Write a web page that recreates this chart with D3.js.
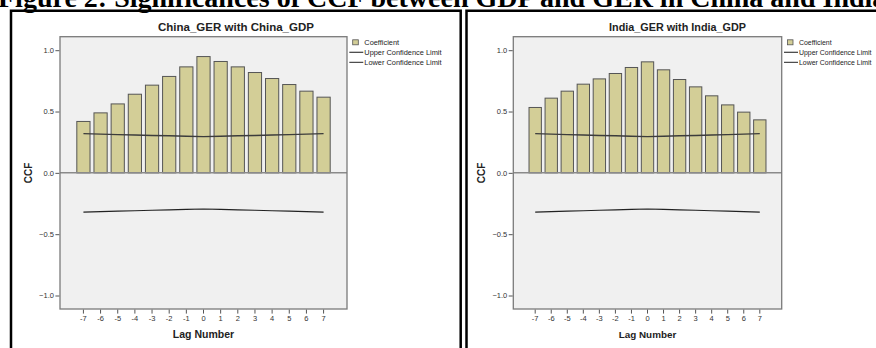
<!DOCTYPE html>
<html>
<head>
<meta charset="utf-8">
<script src="https://cdn.jsdelivr.net/npm/d3@7"></script>
<style>
  html, body { margin: 0; padding: 0; background: #fff; overflow: hidden; }
  svg { display: block; }
</style>
</head>
<body>
<svg id="chart" width="876" height="348"></svg>
<script>
const lags = [-7, -6, -5, -4, -3, -2, -1, 0, 1, 2, 3, 4, 5, 6, 7];
const chinaCoef = [0.419, 0.489, 0.562, 0.641, 0.715, 0.786, 0.864, 0.948, 0.908, 0.864, 0.818, 0.769, 0.720, 0.666, 0.617];
const indiaCoef = [0.533, 0.609, 0.666, 0.723, 0.766, 0.810, 0.859, 0.905, 0.840, 0.761, 0.701, 0.628, 0.554, 0.495, 0.432];
const upperLimit = [0.320, 0.316, 0.312, 0.309, 0.305, 0.302, 0.298, 0.295, 0.298, 0.302, 0.305, 0.309, 0.312, 0.316, 0.320];
const lowerLimit = [-0.320, -0.316, -0.312, -0.309, -0.305, -0.302, -0.298, -0.295, -0.298, -0.302, -0.305, -0.309, -0.312, -0.316, -0.320];
const yTicks = [-1.0, -0.5, 0.0, 0.5, 1.0];
const legendLabels = ["Coefficient", "Upper Confidence Limit", "Lower Confidence Limit"];
const caption = "Figure 2: Significances of CCF between GDP and GER in China and India";

const sans = "'Liberation Sans', Arial, sans-serif";
const svg = d3.select("#chart");

// caption, cut off at the top like the source scan
svg.append("text")
    .attr("x", -2)
    .attr("y", 7)
    .attr("font-family", "'Liberation Serif', 'Times New Roman', serif")
    .attr("font-weight", "bold")
    .attr("font-size", 28)
    .attr("fill", "#000")
    .text(caption);

// panel frames
svg.append("path")
    .attr("d", "M11,350 V10.7 H460.7 V350")
    .attr("fill", "none")
    .attr("stroke", "#000")
    .attr("stroke-width", 2.5);
svg.append("path")
    .attr("d", "M466.5,350 V10.7 H880")
    .attr("fill", "none")
    .attr("stroke", "#000")
    .attr("stroke-width", 2.5);

// fs: the right panel is squeezed a little in the source, so its text is narrower
const panels = [
    { title: "China_GER with China_GDP", values: chinaCoef, left: 60, right: 347, titleX: 236, ccfX: 28, legendX: 349.3, fs: 1 },
    { title: "India_GER with India_GDP", values: indiaCoef, left: 513.3, right: 781.7, titleX: 677.5, ccfX: 481.7, legendX: 784, fs: 0.94 },
];

const plotTop = 36.7;
const plotBottom = 309;

panels.forEach((p) => drawPanel(p));

function drawPanel(p) {
    const g = svg.append("g");

    const x = d3.scaleBand()
        .domain(lags)
        .range([p.left, p.right])
        .paddingInner(0.23)
        .paddingOuter(0.98);

    const y = d3.scaleLinear()
        .domain([-1.11, 1.11])
        .range([plotBottom, plotTop]);

    // plot background
    g.append("rect")
        .attr("x", p.left)
        .attr("y", plotTop)
        .attr("width", p.right - p.left)
        .attr("height", plotBottom - plotTop)
        .attr("fill", "#f0f0f0");

    // bars
    g.append("g")
        .selectAll("rect")
        .data(lags)
        .join("rect")
        .attr("x", (d) => x(d))
        .attr("width", x.bandwidth())
        .attr("y", (d, i) => y(p.values[i]))
        .attr("height", (d, i) => y(0) - y(p.values[i]))
        .attr("fill", "#d3ce97")
        .attr("stroke", "#555")
        .attr("stroke-width", 1);

    // zero line
    g.append("line")
        .attr("x1", p.left)
        .attr("x2", p.right)
        .attr("y1", y(0))
        .attr("y2", y(0))
        .attr("stroke", "#8a8a8a")
        .attr("stroke-width", 1.5);

    // confidence limits
    const line = d3.line()
        .x((d) => x(d[0]) + x.bandwidth() / 2)
        .y((d) => y(d[1]));

    g.append("path")
        .datum(lags.map((d, i) => [d, upperLimit[i]]))
        .attr("d", line)
        .attr("fill", "none")
        .attr("stroke", "#3c3c3c")
        .attr("stroke-width", 1.4);

    g.append("path")
        .datum(lags.map((d, i) => [d, lowerLimit[i]]))
        .attr("d", line)
        .attr("fill", "none")
        .attr("stroke", "#222")
        .attr("stroke-width", 1.1);

    // plot frame
    g.append("rect")
        .attr("x", p.left)
        .attr("y", plotTop)
        .attr("width", p.right - p.left)
        .attr("height", plotBottom - plotTop)
        .attr("fill", "none")
        .attr("stroke", "#7a7a7a")
        .attr("stroke-width", 1.3);

    // axes
    const yAxis = g.append("g")
        .attr("transform", `translate(${p.left - 0.6},0)`)
        .call(d3.axisLeft(y).tickValues(yTicks).tickFormat(d3.format(".1f")).tickSize(4).tickPadding(1.5));

    const xAxis = g.append("g")
        .attr("transform", `translate(0,${plotBottom + 0.6})`)
        .call(d3.axisBottom(x).tickSize(4).tickPadding(2));

    [yAxis, xAxis].forEach((a) => {
        a.select(".domain").remove();
        a.selectAll(".tick line").attr("stroke", "#555");
        a.selectAll(".tick text")
            .attr("fill", "#333")
            .attr("font-family", sans)
            .attr("font-size", 7.5);
    });

    // titles
    g.append("text")
        .attr("x", p.titleX)
        .attr("y", 30.5)
        .attr("text-anchor", "middle")
        .attr("font-family", sans)
        .attr("font-weight", "bold")
        .attr("font-size", 11.5 * p.fs)
        .attr("fill", "#222")
        .text(p.title);

    g.append("text")
        .attr("x", (p.left + p.right) / 2)
        .attr("y", 337.8)
        .attr("text-anchor", "middle")
        .attr("font-family", sans)
        .attr("font-weight", "bold")
        .attr("font-size", 10.5 * p.fs)
        .attr("fill", "#222")
        .text("Lag Number");

    g.append("text")
        .attr("transform", `translate(${p.ccfX + 3.5},${(plotTop + plotBottom) / 2}) rotate(-90)`)
        .attr("text-anchor", "middle")
        .attr("font-family", sans)
        .attr("font-weight", "bold")
        .attr("font-size", 10)
        .attr("fill", "#222")
        .text("CCF");

    // legend
    const lg = g.append("g").attr("transform", `translate(${p.legendX},0)`);
    lg.append("rect")
        .attr("x", 3.4)
        .attr("y", 39.8)
        .attr("width", 5.6)
        .attr("height", 5)
        .attr("fill", "#d3ce97")
        .attr("stroke", "#555")
        .attr("stroke-width", 0.8);
    lg.append("line")
        .attr("x1", 0).attr("x2", 14)
        .attr("y1", 52.3).attr("y2", 52.3)
        .attr("stroke", "#3c3c3c").attr("stroke-width", 1.2);
    lg.append("line")
        .attr("x1", 0).attr("x2", 14)
        .attr("y1", 62.3).attr("y2", 62.3)
        .attr("stroke", "#222").attr("stroke-width", 1);

    lg.selectAll("text.leg")
        .data(legendLabels)
        .join("text")
        .attr("class", "leg")
        .attr("x", 15)
        .attr("y", (d, i) => 45 + i * 10)
        .attr("font-family", sans)
        .attr("font-size", 7.4 * p.fs)
        .attr("fill", "#222")
        .text((d) => d);
}
</script>
</body>
</html>
